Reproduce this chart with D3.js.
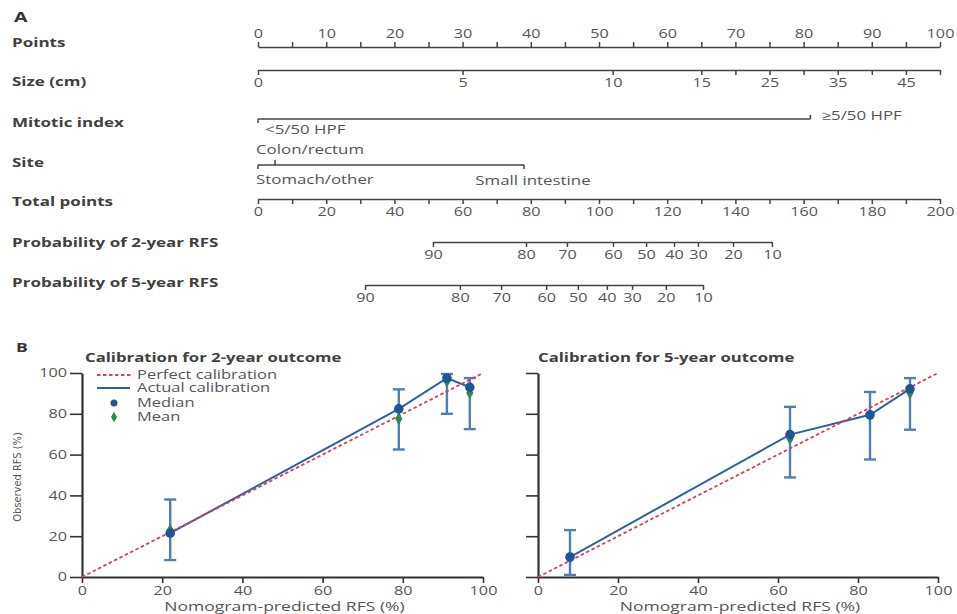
<!DOCTYPE html>
<html>
<head>
<meta charset="utf-8">
<script src="https://cdn.jsdelivr.net/npm/d3@7"></script>
<style>
    body { margin: 0; background: #fff; }
    svg text { font-family: "Open Sans", "Noto Sans", sans-serif; }
</style>
</head>
<body>
<div id="chart"></div>
<script>
// Nomogram rows
const rowLabels = ['Points', 'Size (cm)', 'Mitotic index', 'Site', 'Total points', 'Probability of 2-year RFS', 'Probability of 5-year RFS'];

const pointTicks = [0, 5, 10, 15, 20, 25, 30, 35, 40, 45, 50, 55, 60, 65, 70, 75, 80, 85, 90, 95, 100];
const pointLabels = [0, 10, 20, 30, 40, 50, 60, 70, 80, 90, 100];

const sizeCm = [0, 5, 10, 15, 20, 25, 30, 35, 40, 45, 50];
const sizePoints = [0, 30, 52, 65, 70, 75, 80, 85, 90, 95, 100];
const sizeLabels = [0, 5, 10, 15, 25, 35, 45];

const mitoticLevels = ['<5/50 HPF', '≥5/50 HPF'];
const mitoticPoints = [0, 81];

const siteLevels = ['Stomach/other', 'Colon/rectum', 'Small intestine'];
const sitePoints = [0, 2.5, 39];

const totalTicks = [0, 10, 20, 30, 40, 50, 60, 70, 80, 90, 100, 110, 120, 130, 140, 150, 160, 170, 180, 190, 200];
const totalLabels = [0, 20, 40, 60, 80, 100, 120, 140, 160, 180, 200];

const rfsProb = [90, 80, 70, 60, 50, 40, 30, 20, 10];
const rfs2Total = [51.3, 78.6, 90.6, 104.1, 113.8, 122, 129, 139.3, 150.7];
const rfs5Total = [31.4, 59.2, 71.3, 84.5, 93.8, 102.3, 109.7, 119.6, 130.5];

// Calibration data
const calTicks = [0, 20, 40, 60, 80, 100];

const cal2Pred = [22, 79, 91, 96.7];
const cal2Median = [21.5, 82.4, 97.5, 93];
const cal2Mean = [23, 77.6, 96, 90.2];
const cal2Lower = [8.3, 62.5, 80, 72.5];
const cal2Upper = [38, 92, 99.5, 97.5];

const cal5Pred = [8, 63, 83, 93];
const cal5Median = [9.8, 69.8, 79.5, 92.2];
const cal5Mean = [9.3, 67.8, 79, 90.2];
const cal5Lower = [1, 48.8, 57.6, 72.2];
const cal5Upper = [23, 83.4, 90.7, 97.5];

const width = 957;
const height = 614;

// the source figure has wide lettering, so text gets stretched horizontally
const SX = 1.35;

const svg = d3.select('#chart')
    .append('svg')
    .attr('width', width)
    .attr('height', height);

svg.append('rect')
    .attr('width', width)
    .attr('height', height)
    .attr('fill', '#fff');

// Add a stretched text at (x, y)
const addText = (g, x, y, str, opts = {}) => g.append('text')
    .attr('transform', `translate(${x},${y}) scale(${SX},1)`)
    .attr('dy', '0.35em')
    .attr('text-anchor', opts.anchor || 'start')
    .attr('font-size', opts.size || 12.5)
    .attr('font-weight', opts.bold ? 'bold' : null)
    .attr('fill', opts.color || '#555')
    .text(str);

// Panel letters
addText(svg, 14, 17, 'A', { size: 14.5, bold: true, color: '#333' });
addText(svg, 16, 347, 'B', { size: 13, bold: true, color: '#333' });

// ---------- A: nomogram ----------
const rowY = [47, 70, 119, 165, 199, 242, 285];
const labelY = [43, 82, 123, 163, 202, 243, 283];

const pointsX = d3.scaleLinear().domain([0, 100]).range([258, 940]);
const totalX = d3.scaleLinear().domain([0, 200]).range([258, 940]);

const rowG = svg.append('g').attr('class', 'row-labels');
rowLabels.forEach((d, i) => addText(rowG, 12, labelY[i], d, { size: 12.6, bold: true, color: '#404040' }));

const styleAxis = (g) => {
    g.attr('font-size', 12);
    g.select('.domain').attr('stroke', '#444').attr('stroke-width', 1.5);
    g.selectAll('.tick line').attr('stroke', '#444').attr('stroke-width', 1.5);
    g.selectAll('.tick text')
        .attr('fill', '#555')
        .attr('transform', `scale(${SX},1)`);
};

// Points
svg.append('g')
    .attr('transform', `translate(0,${rowY[0]})`)
    .call(d3.axisTop(pointsX)
        .tickValues(pointTicks)
        .tickSize(5)
        .tickSizeOuter(0)
        .tickPadding(4)
        .tickFormat(d => pointLabels.includes(d) ? d : ''))
    .call(styleAxis);

// Size (cm)
const sizeX = d3.scaleLinear()
    .domain(sizeCm)
    .range(sizePoints.map(p => pointsX(p)));

svg.append('g')
    .attr('transform', `translate(0,${rowY[1]})`)
    .call(d3.axisBottom(sizeX)
        .tickValues(sizeCm)
        .tickSize(5)
        .tickSizeOuter(0)
        .tickFormat(d => sizeLabels.includes(d) ? d : ''))
    .call(styleAxis);

// Mitotic index
const mitotic = svg.append('g').attr('class', 'mitotic');

mitotic.append('line')
    .attr('x1', pointsX(mitoticPoints[0]))
    .attr('x2', pointsX(mitoticPoints[1]))
    .attr('y1', rowY[2]).attr('y2', rowY[2])
    .attr('stroke', '#444').attr('stroke-width', 1.5);

mitotic.selectAll('.tick')
    .data(mitoticPoints)
    .join('line')
    .attr('x1', d => pointsX(d)).attr('x2', d => pointsX(d))
    .attr('y1', rowY[2])
    .attr('y2', (d, i) => i === 0 ? rowY[2] + 4 : rowY[2] - 4)
    .attr('stroke', '#444').attr('stroke-width', 1.5);

addText(mitotic, pointsX(mitoticPoints[0]) + 7, rowY[2] + 11, mitoticLevels[0]);
addText(mitotic, pointsX(mitoticPoints[1]) + 11, rowY[2] - 3, mitoticLevels[1]);

// Site
const site = svg.append('g').attr('class', 'site');

site.append('line')
    .attr('x1', pointsX(d3.min(sitePoints)))
    .attr('x2', pointsX(d3.max(sitePoints)))
    .attr('y1', rowY[3]).attr('y2', rowY[3])
    .attr('stroke', '#444').attr('stroke-width', 1.5);

site.selectAll('.tick')
    .data(sitePoints)
    .join('line')
    .attr('x1', d => pointsX(d)).attr('x2', d => pointsX(d))
    .attr('y1', rowY[3])
    .attr('y2', (d, i) => i === 1 ? rowY[3] - 5 : rowY[3] + 4)
    .attr('stroke', '#444').attr('stroke-width', 1.5);

addText(site, pointsX(sitePoints[0]) - 2, rowY[3] + 15, siteLevels[0]);
addText(site, pointsX(sitePoints[0]) - 2, rowY[3] - 15, siteLevels[1]);
addText(site, pointsX(sitePoints[2]) + 9, rowY[3] + 16, siteLevels[2], { anchor: 'middle' });

// Total points
svg.append('g')
    .attr('transform', `translate(0,${rowY[4]})`)
    .call(d3.axisBottom(totalX)
        .tickValues(totalTicks)
        .tickSize(5)
        .tickSizeOuter(0)
        .tickFormat(d => totalLabels.includes(d) ? d : ''))
    .call(styleAxis);

// Probability of 2-year and 5-year RFS
const rfs2X = d3.scaleLinear()
    .domain(rfsProb)
    .range(rfs2Total.map(t => totalX(t)));

const rfs5X = d3.scaleLinear()
    .domain(rfsProb)
    .range(rfs5Total.map(t => totalX(t)));

svg.append('g')
    .attr('transform', `translate(0,${rowY[5]})`)
    .call(d3.axisBottom(rfs2X)
        .tickValues(rfsProb)
        .tickSize(5)
        .tickSizeOuter(0))
    .call(styleAxis);

svg.append('g')
    .attr('transform', `translate(0,${rowY[6]})`)
    .call(d3.axisBottom(rfs5X)
        .tickValues(rfsProb)
        .tickSize(5)
        .tickSizeOuter(0))
    .call(styleAxis);

// ---------- B: calibration plots ----------
const drawCalibration = (cfg) => {
    const x = d3.scaleLinear().domain([0, 100]).range(cfg.xRange);
    const y = d3.scaleLinear().domain([0, 100]).range([577, 373]);

    const g = svg.append('g').attr('class', 'calibration');

    // Title
    addText(g, cfg.xRange[0] + cfg.titleShift, 358, cfg.title, { size: 12.4, bold: true, color: '#404040' });

    // Axes
    const yAxis = g.append('g')
        .attr('transform', `translate(${cfg.xRange[0]},0)`)
        .call(d3.axisLeft(y)
            .tickValues(calTicks)
            .tickSize(12)
            .tickSizeOuter(0)
            .tickPadding(3)
            .tickFormat(d => cfg.yLabels ? d : ''));

    const xAxis = g.append('g')
        .attr('transform', `translate(0,${y(0)})`)
        .call(d3.axisBottom(x)
            .tickValues(calTicks)
            .tickSize(6)
            .tickSizeOuter(0)
            .tickPadding(3));

    [yAxis, xAxis].forEach(a => {
        a.attr('font-size', 12);
        a.select('.domain').attr('stroke', '#333').attr('stroke-width', 2.2);
        a.selectAll('.tick line').attr('stroke', '#333').attr('stroke-width', 1.6);
        a.selectAll('.tick text')
            .attr('fill', '#555')
            .attr('transform', `scale(${SX},1)`);
    });
    yAxis.selectAll('.tick text').attr('x', -15 / SX);

    // X label
    addText(g, (cfg.xRange[0] + cfg.xRange[1]) / 2 + 2, 606, 'Nomogram-predicted RFS (%)', { size: 13, anchor: 'middle' });

    // Y label
    if (cfg.yTitle) {
        g.append('text')
            .attr('transform', `translate(17,${y(50) + 2}) rotate(-90)`)
            .attr('text-anchor', 'middle')
            .attr('dy', '0.35em')
            .attr('font-size', 11)
            .style('font-family', '"Liberation Sans Narrow", "DejaVu Sans Condensed", sans-serif')
            .attr('fill', '#555')
            .text(cfg.yTitle);
    }

    const data = cfg.pred.map((p, i) => ({
        pred: p,
        median: cfg.median[i],
        mean: cfg.mean[i],
        lower: cfg.lower[i],
        upper: cfg.upper[i]
    }));

    // Error bars
    const bars = g.append('g')
        .attr('stroke', '#4f7fb5')
        .attr('stroke-width', 2.4);

    bars.selectAll('.bar')
        .data(data)
        .join('line')
        .attr('x1', d => x(d.pred)).attr('x2', d => x(d.pred))
        .attr('y1', d => y(d.lower)).attr('y2', d => y(d.upper));

    bars.selectAll('.cap-low')
        .data(data)
        .join('line')
        .attr('x1', d => x(d.pred) - 6).attr('x2', d => x(d.pred) + 6)
        .attr('y1', d => y(d.lower)).attr('y2', d => y(d.lower));

    bars.selectAll('.cap-high')
        .data(data)
        .join('line')
        .attr('x1', d => x(d.pred) - 6).attr('x2', d => x(d.pred) + 6)
        .attr('y1', d => y(d.upper)).attr('y2', d => y(d.upper));

    // Actual calibration
    g.append('path')
        .datum(data)
        .attr('fill', 'none')
        .attr('stroke', '#2b62a0')
        .attr('stroke-width', 2)
        .attr('d', d3.line().x(d => x(d.pred)).y(d => y(d.median)));

    // Perfect calibration
    g.append('line')
        .attr('x1', x(0)).attr('y1', y(0))
        .attr('x2', x(100)).attr('y2', y(100))
        .attr('stroke', '#d8405e')
        .attr('stroke-width', 1.8)
        .attr('stroke-dasharray', '3.5,2.5');

    // Mean
    g.selectAll('.mean')
        .data(data)
        .join('path')
        .attr('transform', d => `translate(${x(d.pred)},${y(d.mean)})`)
        .attr('d', d3.symbol(d3.symbolDiamond, 45))
        .attr('fill', '#2d8a4a');

    // Median
    g.selectAll('.median')
        .data(data)
        .join('circle')
        .attr('cx', d => x(d.pred))
        .attr('cy', d => y(d.median))
        .attr('r', 4.8)
        .attr('fill', '#1f5496');

    // Legend
    if (cfg.legend) {
        const lg = g.append('g');
        const lx = 97;
        const ly = [375, 388, 403, 417];

        lg.append('line')
            .attr('x1', lx).attr('x2', lx + 35)
            .attr('y1', ly[0]).attr('y2', ly[0])
            .attr('stroke', '#d8405e').attr('stroke-width', 1.8)
            .attr('stroke-dasharray', '3.5,2.5');

        lg.append('line')
            .attr('x1', lx).attr('x2', lx + 33)
            .attr('y1', ly[1]).attr('y2', ly[1])
            .attr('stroke', '#2b62a0').attr('stroke-width', 2);

        lg.append('circle')
            .attr('cx', lx + 17).attr('cy', ly[2]).attr('r', 3.5)
            .attr('fill', '#1f5496');

        lg.append('path')
            .attr('transform', `translate(${lx + 17},${ly[3]})`)
            .attr('d', d3.symbol(d3.symbolDiamond, 32))
            .attr('fill', '#2d8a4a');

        cfg.legend.forEach((d, i) => addText(lg, lx + 40, ly[i], d, { size: 12.2 }));
    }
};

drawCalibration({
    title: 'Calibration for 2-year outcome',
    xRange: [82, 483],
    titleShift: 3,
    yLabels: true,
    yTitle: 'Observed RFS (%)',
    legend: ['Perfect calibration', 'Actual calibration', 'Median', 'Mean'],
    pred: cal2Pred,
    median: cal2Median,
    mean: cal2Mean,
    lower: cal2Lower,
    upper: cal2Upper
});

drawCalibration({
    title: 'Calibration for 5-year outcome',
    xRange: [538, 938],
    titleShift: 0,
    yLabels: false,
    yTitle: null,
    legend: null,
    pred: cal5Pred,
    median: cal5Median,
    mean: cal5Mean,
    lower: cal5Lower,
    upper: cal5Upper
});
</script>
</body>
</html>
